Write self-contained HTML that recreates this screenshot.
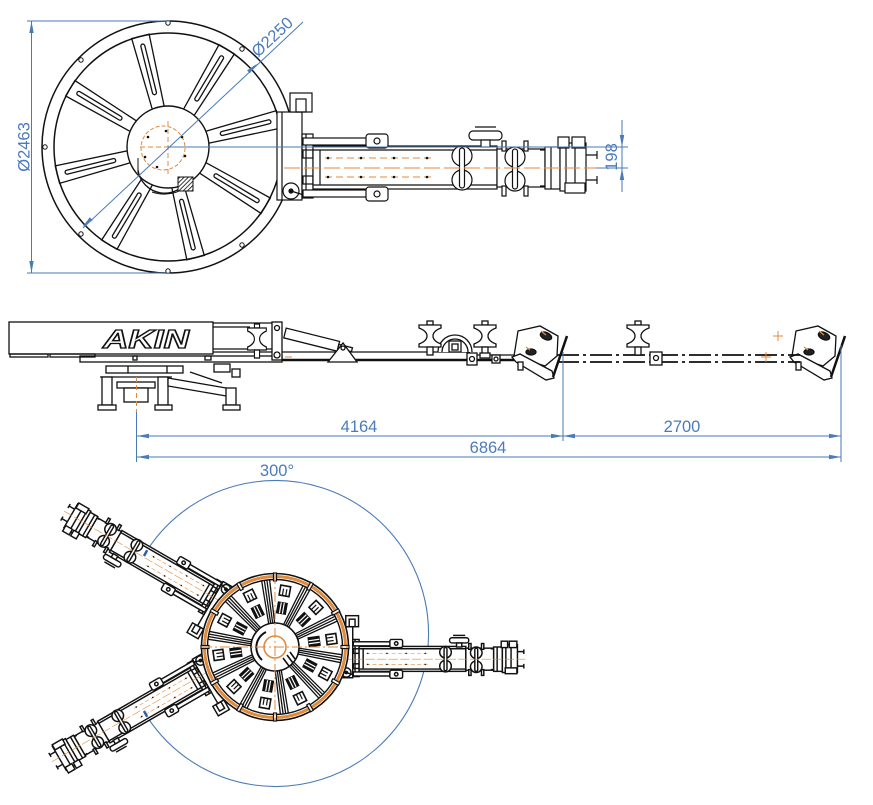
<!DOCTYPE html>
<html><head><meta charset="utf-8">
<style>
html,body{margin:0;padding:0;background:#fff;}
svg{display:block;}
text{font-family:"Liberation Sans",Arial,sans-serif;}
</style></head><body>
<svg width="873" height="805" viewBox="0 0 873 805" xmlns="http://www.w3.org/2000/svg">
<defs>
 <pattern id="hatch" width="3" height="3" patternUnits="userSpaceOnUse" patternTransform="rotate(45)"><rect width="3" height="3" fill="#fff"/><line x1="0" y1="0" x2="0" y2="3" stroke="#222" stroke-width="1.8"/></pattern>
 <g id="sp"><polygon points="205,141 282,138 282,156 205,153" fill="#fff"/><rect x="222" y="145" width="52" height="4" rx="2" fill="none"/></g>
 <g id="arm" fill="none">
  <rect x="277" y="112" width="25" height="88" fill="#fff"/>
  <line x1="282" y1="112" x2="282" y2="200"/>
  <rect x="290" y="93" width="22" height="19" fill="#fff"/>
  <rect x="296" y="99" width="10" height="13"/>
  <rect x="302" y="134" width="11" height="64" fill="#fff"/>
  <line x1="306" y1="134" x2="306" y2="198"/>
  <rect x="303" y="150" width="10" height="8"/>
  <rect x="303" y="176" width="10" height="8"/>
  <circle cx="291" cy="191" r="8" fill="#fff"/>
  <circle cx="291" cy="191" r="2" fill="#111"/>
  <line x1="291" y1="191" x2="310" y2="197"/>
  <rect x="313" y="146" width="184" height="43" fill="#fff"/>
  <line x1="313" y1="150" x2="497" y2="150"/>
  <line x1="313" y1="185" x2="497" y2="185"/>
  <line x1="320" y1="150" x2="320" y2="185"/>
  <line x1="325" y1="158" x2="432" y2="158" stroke="#e08a3c" stroke-width="1" stroke-dasharray="7 4"/>
  <line x1="325" y1="177" x2="432" y2="177" stroke="#e08a3c" stroke-width="1" stroke-dasharray="7 4"/>
  <g fill="#111" stroke="none">
   <circle cx="328" cy="158" r="1.3"/><circle cx="361" cy="158" r="1.3"/><circle cx="394" cy="158" r="1.3"/><circle cx="427" cy="158" r="1.3"/>
   <circle cx="328" cy="177" r="1.3"/><circle cx="361" cy="177" r="1.3"/><circle cx="394" cy="177" r="1.3"/><circle cx="427" cy="177" r="1.3"/>
  </g>
  <rect x="303" y="138" width="64" height="7" fill="#fff"/>
  <rect x="366" y="134" width="22" height="14" rx="3" fill="#fff"/>
  <circle cx="377" cy="141" r="3"/>
  <rect x="303" y="190" width="64" height="7" fill="#fff"/>
  <rect x="366" y="187" width="22" height="14" rx="3" fill="#fff"/>
  <circle cx="377" cy="194" r="3"/>
  <rect x="497" y="149" width="48" height="38" fill="#fff"/>
  <circle cx="462" cy="156" r="10" fill="#fff"/>
  <circle cx="462" cy="180" r="10" fill="#fff"/>
  <rect x="459.5" y="148" width="5" height="40" rx="2.5" fill="#fff"/>
  <circle cx="515" cy="157" r="10" fill="#fff"/>
  <circle cx="515" cy="181" r="10" fill="#fff"/>
  <rect x="512.5" y="149" width="5" height="40" rx="2.5" fill="#fff"/>
  <rect x="502" y="141" width="4" height="10" fill="#fff"/>
  <rect x="524" y="141" width="4" height="10" fill="#fff"/>
  <rect x="502" y="186" width="4" height="10" fill="#fff"/>
  <rect x="524" y="186" width="4" height="10" fill="#fff"/>
  <rect x="469" y="131" width="33" height="9" rx="4" fill="#fff"/>
  <line x1="475" y1="127" x2="496" y2="127"/>
  <rect x="481" y="140" width="9" height="7" fill="#fff"/>
  <rect x="545" y="147" width="15" height="42" fill="#fff"/>
  <line x1="551" y1="147" x2="551" y2="189"/>
  <rect x="560" y="143" width="26" height="48" fill="#fff"/>
  <line x1="566" y1="143" x2="566" y2="191"/>
  <line x1="575" y1="143" x2="575" y2="191"/>
  <rect x="558" y="137" width="11" height="11" fill="#fff"/>
  <rect x="572" y="137" width="13" height="11" fill="#fff"/>
  <rect x="565" y="183" width="20" height="10" fill="#fff"/>
  <path d="M586,155 H597 M597,151 V159 M586,180 H597 M597,176 V184 M540,150 H545 M540,186 H545"/>
  <line x1="284" y1="168" x2="600" y2="168" stroke="#e08a3c" stroke-width="1" stroke-dasharray="16 4"/>
 </g>
 <g id="spool">
  <rect x="-3" y="-15" width="6" height="4" fill="#fff"/>
  <path d="M-11,-11 H11 V-8 Q3,-5 3,0 Q3,5 11,8 V11 H-11 V8 Q-3,5 -3,0 Q-3,-5 -11,-8 Z" fill="#fff"/>
  <rect x="-3" y="11" width="6" height="8" fill="#fff"/>
 </g>
 <g id="head">
  <polygon points="518,331 540,326 558,336 557,356 545,366 514,356" fill="#fff"/>
  <ellipse cx="546" cy="336" rx="6" ry="3.5" fill="#222" transform="rotate(25 546 336)"/>
  <ellipse cx="531" cy="352" rx="5" ry="3" fill="#222"/>
  <polygon points="512,357 520,354 552,371 554,378 546,380 516,362" fill="#fff"/>
  <line x1="567" y1="336" x2="553" y2="377" stroke-width="2.5"/>
  <rect x="518" y="362" width="5" height="8" fill="#fff"/>
  <path d="M541,331 l5,4 M526,347 l4,3" stroke="#e08a3c"/>
 </g>
 <g id="bsp">
  <line x1="24" y1="-3" x2="67" y2="-4"/>
  <line x1="24" y1="-1" x2="67" y2="-1.3"/>
  <line x1="24" y1="1" x2="67" y2="1.3"/>
  <line x1="24" y1="3" x2="67" y2="4"/>
 </g>
 <g id="comb">
  <rect x="52" y="-5" width="10" height="10" fill="#fff" stroke-width="1.6"/>
  <line x1="52" y1="-1.7" x2="59" y2="-1.7"/>
  <line x1="52" y1="1.7" x2="59" y2="1.7"/>
  <rect x="34" y="-4.5" width="11" height="9" fill="#111"/>
  <line x1="34" y1="-1.5" x2="45" y2="-1.5" stroke="#fff"/>
  <line x1="34" y1="1.5" x2="45" y2="1.5" stroke="#fff"/>
 </g>
 <g id="tk"><rect x="66" y="-1.5" width="8" height="3" fill="#fff"/></g>
</defs>

<!-- ============ TOP VIEW ============ -->
<g stroke="#111" stroke-width="1.3" fill="none">
 <circle cx="168" cy="147" r="126" fill="#fff" stroke-width="1.5"/>
 <use href="#sp" transform="rotate(-14 168 147)"/>
 <use href="#sp" transform="rotate(31 168 147)"/>
 <use href="#sp" transform="rotate(76 168 147)"/>
 <use href="#sp" transform="rotate(121 168 147)"/>
 <use href="#sp" transform="rotate(166 168 147)"/>
 <use href="#sp" transform="rotate(211 168 147)"/>
 <use href="#sp" transform="rotate(256 168 147)"/>
 <use href="#sp" transform="rotate(301 168 147)"/>
 <circle cx="168" cy="147" r="114" stroke-width="1.5"/>
 <g fill="#fff" stroke-width="1">
  <circle cx="168" cy="23" r="2.2"/><circle cx="81" cy="60" r="2.2"/><circle cx="45" cy="147" r="2.2"/>
  <circle cx="81" cy="234" r="2.2"/><circle cx="168" cy="271" r="2.2"/><circle cx="242" cy="245" r="2.2"/><circle cx="242" cy="49" r="2.2"/>
 </g>
 <circle cx="168" cy="147" r="41" fill="#fff" stroke-width="1.4"/>
 <path d="M138,170 A27,27 0 0 0 189,178" stroke-width="1.3"/>
 <path d="M152,192 Q170,198 187,187" stroke-width="1"/>
 <line x1="138" y1="158" x2="138" y2="173" stroke-width="1"/>
 <rect x="178" y="177" width="15" height="14" fill="url(#hatch)" stroke-width="1"/>
 <circle cx="163" cy="148" r="22" stroke="#e08a3c" stroke-width="1" stroke-dasharray="4 2"/>
 <line x1="140" y1="147" x2="192" y2="147" stroke="#e08a3c" stroke-width="1" stroke-dasharray="5 3"/>
 <line x1="168" y1="121" x2="168" y2="174" stroke="#e08a3c" stroke-width="1" stroke-dasharray="5 3"/>
 <g fill="#111" stroke="none">
  <circle cx="166" cy="131" r="1.3"/><circle cx="182" cy="137" r="1.3"/><circle cx="185" cy="156" r="1.3"/><circle cx="157" cy="167" r="1.3"/><circle cx="145" cy="157" r="1.3"/><circle cx="148" cy="137" r="1.3"/>
 </g>
</g>
<use href="#arm" stroke="#111" stroke-width="1.2"/>
<line x1="600" y1="168" x2="628" y2="168" stroke="#e08a3c" stroke-width="1" stroke-dasharray="16 4"/>

<!-- top dims -->
<g stroke="#4a7ab8" stroke-width="1" fill="none">
 <line x1="27" y1="21" x2="170" y2="21"/>
 <line x1="27" y1="273" x2="170" y2="273"/>
 <line x1="31.5" y1="21" x2="31.5" y2="273"/>
 <line x1="83" y1="228" x2="303" y2="22"/>
 <line x1="168" y1="147" x2="628" y2="147"/>
 <line x1="596" y1="168" x2="628" y2="168"/>
 <line x1="622" y1="120" x2="622" y2="192"/>
</g>
<g fill="#4a7ab8">
 <polygon points="31.5,21 29.3,33 33.7,33"/>
 <polygon points="31.5,273 29.3,261 33.7,261"/>
 <polygon points="257.2,63.7 249.8,73.4 247.0,70.4"/>
 <polygon points="82.5,226.9 92.6,220.2 89.8,217.2"/>
 <polygon points="622,147 619.8,135 624.2,135"/>
 <polygon points="622,168 619.8,180 624.2,180"/>
</g>
<g fill="#4b7bbd" font-size="16.5">
 <text transform="translate(29.5,147) rotate(-90)" text-anchor="middle">Ø2463</text>
 <text transform="translate(276,41) rotate(-43)" text-anchor="middle">Ø2250</text>
 <text transform="translate(617,157) rotate(-90)" text-anchor="middle">198</text>
</g>

<!-- ============ SIDE VIEW ============ -->
<g stroke="#111" stroke-width="1.3" fill="none">
 <rect x="80" y="356" width="202" height="6" fill="#fff"/>
 <rect x="106" y="366" width="77" height="7" fill="#fff"/>
 <line x1="128" y1="366" x2="128" y2="373"/>
 <line x1="167" y1="366" x2="167" y2="373"/>
 <line x1="100" y1="377" x2="172" y2="377"/>
 <rect x="117" y="382" width="38" height="6" fill="#fff"/>
 <rect x="124" y="388" width="24" height="14" fill="#fff"/>
 <rect x="102" y="377" width="10" height="28" fill="#fff"/>
 <rect x="98" y="405" width="18" height="5" fill="#fff"/>
 <rect x="158" y="377" width="10" height="28" fill="#fff"/>
 <rect x="155" y="405" width="17" height="5" fill="#fff"/>
 <polygon points="168,378 232,389 232,397 168,386" fill="#fff"/>
 <line x1="190" y1="372" x2="222" y2="383"/>
 <rect x="226" y="388" width="10" height="17" fill="#fff"/>
 <rect x="223" y="405" width="17" height="5" fill="#fff"/>
 <rect x="214" y="364" width="16" height="8" fill="#fff"/>
 <rect x="232" y="369" width="8" height="8" fill="#fff"/>
 <rect x="9" y="322" width="204" height="32" fill="#fff"/>
 <rect x="10" y="354" width="38" height="3"/>
 <rect x="50" y="354" width="45" height="3"/>
 <rect x="133" y="356" width="4" height="4"/>
 <rect x="205" y="356" width="6" height="4"/>
 <line x1="213" y1="323" x2="272" y2="323"/>
 <line x1="213" y1="327" x2="250" y2="327"/>
 <line x1="213" y1="349" x2="272" y2="349"/>
 <line x1="213" y1="352" x2="272" y2="352"/>
 <use href="#spool" transform="translate(257,339) scale(0.85,1)"/>
 <rect x="272" y="322" width="10" height="38" fill="#fff"/>
 <circle cx="277" cy="328" r="2.5"/>
 <circle cx="277" cy="355" r="3"/>
 <line x1="282" y1="352" x2="470" y2="352"/>
 <line x1="282" y1="360" x2="515" y2="360" stroke-width="2.6"/>
 <line x1="470" y1="355" x2="515" y2="355"/>
 <g transform="rotate(14 285 333)">
  <rect x="285" y="328" width="55" height="10" fill="#fff"/>
  <rect x="340" y="331" width="14" height="4" fill="#fff"/>
 </g>
 <polygon points="328,362 343,343 357,362" fill="#fff"/>
 <circle cx="343" cy="348" r="2"/>
 <path d="M438,352 A17,17 0 0 1 472,352" fill="#fff"/>
 <path d="M442,352 A13,13 0 0 1 468,352"/>
 <rect x="449" y="341" width="12" height="11" fill="#fff"/>
 <rect x="452" y="344" width="6" height="6"/>
 <use href="#spool" transform="translate(430,336)"/>
 <use href="#spool" transform="translate(485,336)"/>
 <rect x="467" y="353" width="10" height="12" fill="#fff"/>
 <circle cx="472" cy="359" r="2.5"/>
 <rect x="480" y="353" width="10" height="5" fill="#fff"/>
 <rect x="492" y="355" width="8" height="8" fill="#fff"/>
 <circle cx="496" cy="359" r="2"/>
 <use href="#head"/>
 <use href="#head" transform="translate(278,0)"/>
 <line x1="557" y1="355" x2="800" y2="355" stroke-width="1.8" stroke-dasharray="22 4 3 4"/>
 <line x1="557" y1="362" x2="800" y2="362" stroke-width="1.8" stroke-dasharray="22 4 3 4"/>
 <use href="#spool" transform="translate(638,336)"/>
 <rect x="650" y="352" width="12" height="13" fill="#fff"/>
 <circle cx="656" cy="358" r="2.5"/>
</g>
<text x="103" y="348" font-size="26" font-weight="bold" font-style="italic" fill="#fff" stroke="#111" stroke-width="1.3" textLength="86" lengthAdjust="spacingAndGlyphs">AKIN</text>
<g stroke="#e08a3c" stroke-width="1" fill="none">
 <path d="M778,331 V341 M773,336 H783 M766,352 V362 M761,357 H771"/>
 <line x1="136.5" y1="377" x2="136.5" y2="412" stroke-dasharray="5 3"/>
 <path d="M285,357 h7"/>
</g>

<!-- side dims -->
<g stroke="#4a7ab8" stroke-width="1" fill="none">
 <line x1="136.5" y1="412" x2="136.5" y2="462"/>
 <line x1="563" y1="352" x2="563" y2="441"/>
 <line x1="841" y1="345" x2="841" y2="462"/>
 <line x1="137" y1="436" x2="841" y2="436"/>
 <line x1="137" y1="457" x2="841" y2="457"/>
</g>
<g fill="#4a7ab8">
 <polygon points="137,436 149,433.8 149,438.2"/>
 <polygon points="563,436 551,433.8 551,438.2"/>
 <polygon points="563,436 575,433.8 575,438.2"/>
 <polygon points="841,436 829,433.8 829,438.2"/>
 <polygon points="137,457 149,454.8 149,459.2"/>
 <polygon points="841,457 829,454.8 829,459.2"/>
</g>
<g fill="#4b7bbd" font-size="16.5" text-anchor="middle">
 <text x="359" y="432">4164</text>
 <text x="682" y="432">2700</text>
 <text x="488" y="453">6864</text>
 <text x="277" y="476">300°</text>
</g>

<!-- ============ BOTTOM VIEW ============ -->
<path d="M147.2,550.2 A153,153 0 1 1 147.2,716.8" stroke="#4a7ab8" stroke-width="1.1" fill="none"/>
<use href="#arm" stroke="#111" stroke-width="2.5" transform="translate(275 647) scale(0.58) translate(-168 -147)"/>
<use href="#arm" stroke="#111" stroke-width="2.5" transform="translate(275 647) rotate(150) scale(0.58) translate(-168 -147)"/>
<use href="#arm" stroke="#111" stroke-width="2.5" transform="translate(275 647) rotate(-150) scale(0.58) translate(-168 -147)"/>
<g stroke="#2f5fa8" stroke-width="2.5">
 <line x1="147.2" y1="550.2" x2="144" y2="556"/>
 <line x1="147.2" y1="716.8" x2="144" y2="711"/>
</g>
<g stroke="#111" fill="none" stroke-width="1.2">
 <circle cx="275" cy="647" r="73.5" fill="#fff" stroke-width="1.6"/>
 <circle cx="275" cy="647" r="70.5" stroke="#e08a3c" stroke-width="3"/>
 <circle cx="275" cy="647" r="67.5" stroke-width="1.4"/>
 <use href="#tk" transform="translate(275 647) rotate(0)"/>
 <use href="#tk" transform="translate(275 647) rotate(30)"/>
 <use href="#tk" transform="translate(275 647) rotate(60)"/>
 <use href="#tk" transform="translate(275 647) rotate(90)"/>
 <use href="#tk" transform="translate(275 647) rotate(120)"/>
 <use href="#tk" transform="translate(275 647) rotate(150)"/>
 <use href="#tk" transform="translate(275 647) rotate(180)"/>
 <use href="#tk" transform="translate(275 647) rotate(210)"/>
 <use href="#tk" transform="translate(275 647) rotate(240)"/>
 <use href="#tk" transform="translate(275 647) rotate(270)"/>
 <use href="#tk" transform="translate(275 647) rotate(300)"/>
 <use href="#tk" transform="translate(275 647) rotate(330)"/>
 <g stroke-width="1.3">
 <use href="#bsp" transform="translate(275 647) rotate(-62)"/>
 <use href="#bsp" transform="translate(275 647) rotate(-26)"/>
 <use href="#bsp" transform="translate(275 647) rotate(10)"/>
 <use href="#bsp" transform="translate(275 647) rotate(46)"/>
 <use href="#bsp" transform="translate(275 647) rotate(82)"/>
 <use href="#bsp" transform="translate(275 647) rotate(118)"/>
 <use href="#bsp" transform="translate(275 647) rotate(154)"/>
 <use href="#bsp" transform="translate(275 647) rotate(190)"/>
 <use href="#bsp" transform="translate(275 647) rotate(226)"/>
 <use href="#bsp" transform="translate(275 647) rotate(262)"/>
 </g>
 <use href="#comb" transform="translate(275 647) rotate(-80)"/>
 <use href="#comb" transform="translate(275 647) rotate(-44)"/>
 <use href="#comb" transform="translate(275 647) rotate(-8)"/>
 <use href="#comb" transform="translate(275 647) rotate(28)"/>
 <use href="#comb" transform="translate(275 647) rotate(64)"/>
 <use href="#comb" transform="translate(275 647) rotate(100)"/>
 <use href="#comb" transform="translate(275 647) rotate(136)"/>
 <use href="#comb" transform="translate(275 647) rotate(172)"/>
 <use href="#comb" transform="translate(275 647) rotate(208)"/>
 <use href="#comb" transform="translate(275 647) rotate(244)"/>
 <circle cx="275" cy="647" r="24" fill="#fff" stroke-width="1.6"/>
 <path d="M262,660 A17,17 0 0 1 266,632" stroke-width="2"/>
 <path d="M283,658 l6,8 M287,655 l6,8 M290,652 l5,7" stroke-width="1.6"/>
 <circle cx="275" cy="647" r="11" stroke="#e08a3c" stroke-width="1.6"/>
 <line x1="202" y1="647" x2="348" y2="647" stroke="#e08a3c" stroke-width="1" stroke-dasharray="10 3 2 3"/>
 <line x1="275" y1="574" x2="275" y2="720" stroke="#e08a3c" stroke-width="1" stroke-dasharray="10 3 2 3"/>
</g>
</svg>
</body></html>
